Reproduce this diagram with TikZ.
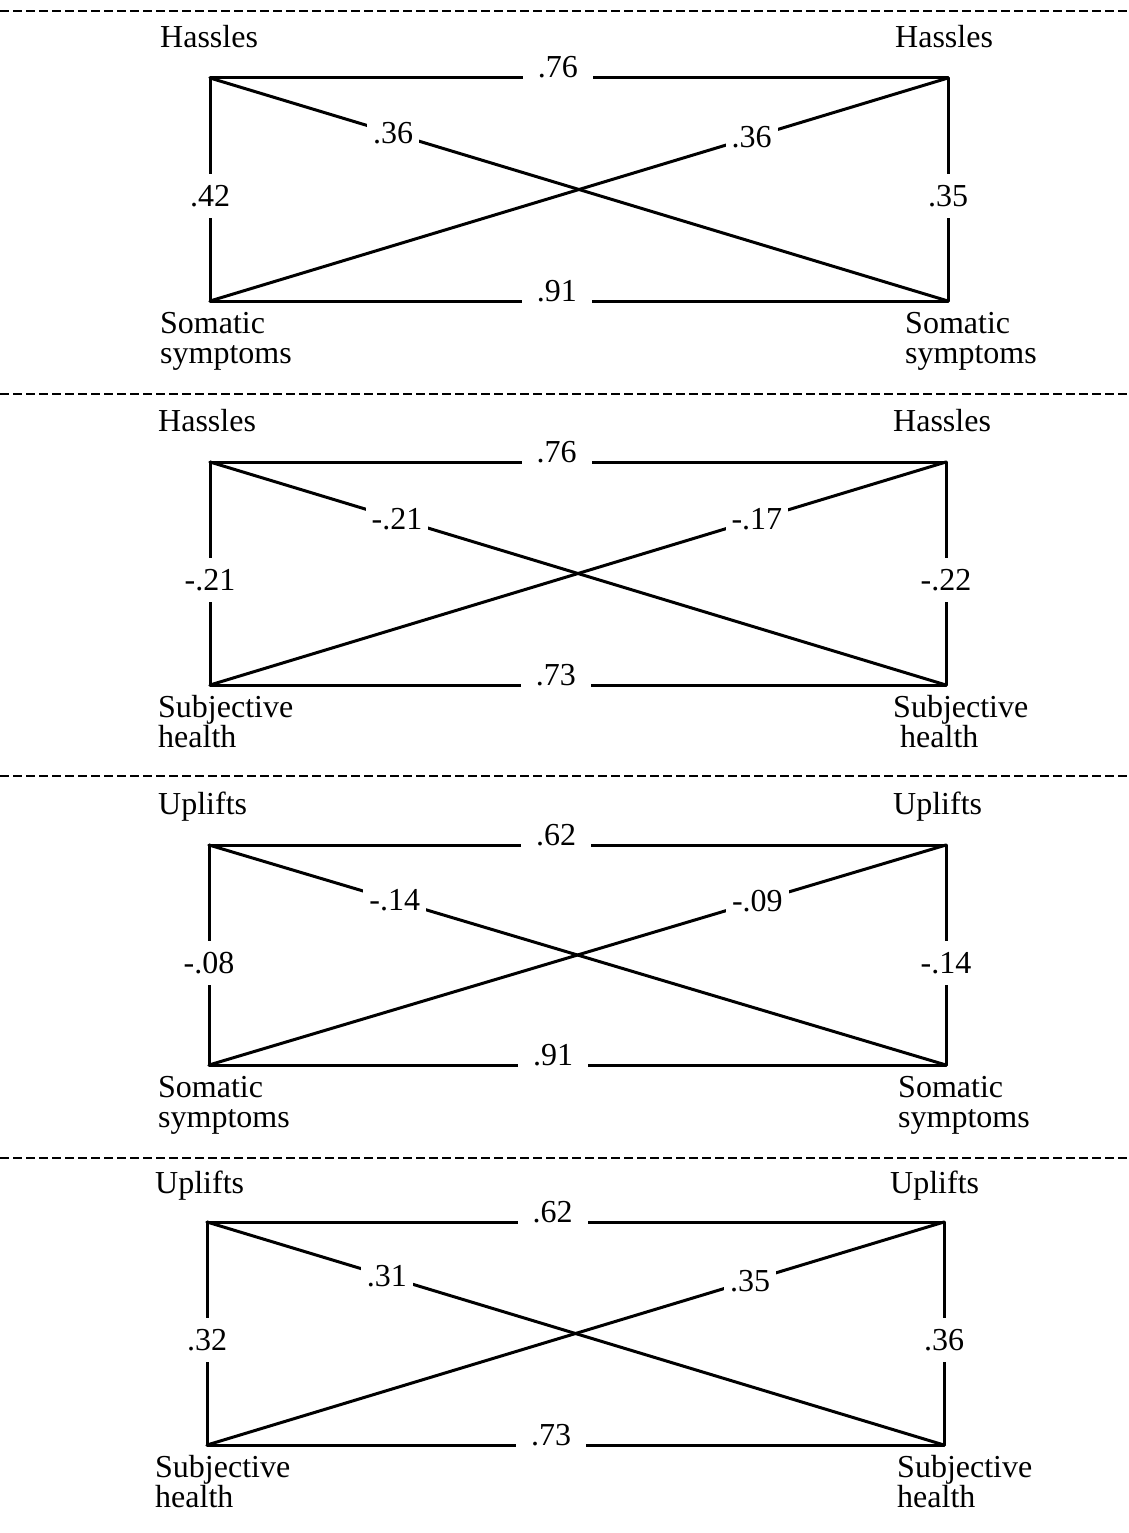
\documentclass[tikz,border=0pt]{standalone}
\usepackage{fontspec}
\setmainfont{Liberation Serif}
\begin{document}
\begin{tikzpicture}[x=1pt,y=-1pt,
  edge/.style={line width=3pt, line cap=round, line join=round},
  sep/.style={line width=2pt, dash pattern=on 9pt off 4pt},
  hlab/.style={fill=white, anchor=base, inner xsep=15pt, inner ysep=3pt},
  dlab/.style={fill=white, inner xsep=6pt, inner ysep=3pt},
  vlab/.style={fill=white, inner xsep=2pt, inner ysep=11pt},
  var/.style={anchor=base west, inner sep=0pt},
  every node/.style={font=\fontsize{32}{36}\selectfont}]
\useasboundingbox (0,0) rectangle (1129,1533);

% separators
\coordinate (s1l) at (0,11);   \coordinate (s1r) at (1129,11);
\coordinate (s2l) at (0,394);  \coordinate (s2r) at (1129,394);
\coordinate (s3l) at (0,776);  \coordinate (s3r) at (1129,776);
\coordinate (s4l) at (0,1158); \coordinate (s4r) at (1129,1158);
\draw[sep] (s1l) -- (s1r);
\draw[sep] (s2l) -- (s2r);
\draw[sep] (s3l) -- (s3r);
\draw[sep] (s4l) -- (s4r);

% ---------- panel 1 ----------
\coordinate (a1) at (210,78);  \coordinate (b1) at (948,78);
\coordinate (c1) at (210,301); \coordinate (d1) at (948,301);
\draw[edge] (a1) -- node[hlab,pos=0.4715]{.76} (b1);
\draw[edge] (c1) -- node[hlab,pos=0.470]{.91} (d1);
\draw[edge] (a1) -- node[vlab,pos=0.53]{.42} (c1);
\draw[edge] (b1) -- node[vlab,pos=0.53]{.35} (d1);
\draw[edge] (a1) -- node[dlab,pos=0.248]{.36} (d1);
\draw[edge] (c1) -- node[dlab,pos=0.734]{.36} (b1);
\node[var] (p1tl) at (160,48) {Hassles};
\node[var] (p1tr) at (895,48) {Hassles};
\node[var] (p1bl1) at (160,333) {Somatic};
\node[var] (p1bl2) at (160,363) {symptoms};
\node[var] (p1br1) at (905,333) {Somatic};
\node[var] (p1br2) at (905,363) {symptoms};

% ---------- panel 2 ----------
\coordinate (a2) at (210,462);  \coordinate (b2) at (946,462);
\coordinate (c2) at (210,685);  \coordinate (d2) at (946,685);
\draw[edge] (a2) -- node[hlab,pos=0.471]{.76} (b2);
\draw[edge] (c2) -- node[hlab,pos=0.470]{.73} (d2);
\draw[edge] (a2) -- node[vlab,pos=0.53]{-.21} (c2);
\draw[edge] (b2) -- node[vlab,pos=0.53]{-.22} (d2);
\draw[edge] (a2) -- node[dlab,pos=0.254]{-.21} (d2);
\draw[edge] (c2) -- node[dlab,pos=0.743]{-.17} (b2);
\node[var] (p2tl) at (158,431) {Hassles};
\node[var] (p2tr) at (893,431) {Hassles};
\node[var] (p2bl1) at (158,717) {Subjective};
\node[var] (p2bl2) at (158,747) {health};
\node[var] (p2br1) at (893,717) {Subjective};
\node[var] (p2br2) at (900,747) {health};

% ---------- panel 3 ----------
\coordinate (a3) at (209,845);  \coordinate (b3) at (946,845);
\coordinate (c3) at (209,1065); \coordinate (d3) at (946,1065);
\draw[edge] (a3) -- node[hlab,pos=0.471]{.62} (b3);
\draw[edge] (c3) -- node[hlab,pos=0.467]{.91} (d3);
\draw[edge] (a3) -- node[vlab,pos=0.536]{-.08} (c3);
\draw[edge] (b3) -- node[vlab,pos=0.536]{-.14} (d3);
\draw[edge] (a3) -- node[dlab,pos=0.252]{-.14} (d3);
\draw[edge] (c3) -- node[dlab,pos=0.744]{-.09} (b3);
\node[var] (p3tl) at (158,814) {Uplifts};
\node[var] (p3tr) at (893,814) {Uplifts};
\node[var] (p3bl1) at (158,1097) {Somatic};
\node[var] (p3bl2) at (158,1127) {symptoms};
\node[var] (p3br1) at (898,1097) {Somatic};
\node[var] (p3br2) at (898,1127) {symptoms};

% ---------- panel 4 ----------
\coordinate (a4) at (207,1222); \coordinate (b4) at (944,1222);
\coordinate (c4) at (207,1445); \coordinate (d4) at (944,1445);
\draw[edge] (a4) -- node[hlab,pos=0.469]{.62} (b4);
\draw[edge] (c4) -- node[hlab,pos=0.467]{.73} (d4);
\draw[edge] (a4) -- node[vlab,pos=0.53]{.32} (c4);
\draw[edge] (b4) -- node[vlab,pos=0.53]{.36} (d4);
\draw[edge] (a4) -- node[dlab,pos=0.244]{.31} (d4);
\draw[edge] (c4) -- node[dlab,pos=0.737]{.35} (b4);
\node[var] (p4tl) at (155,1193) {Uplifts};
\node[var] (p4tr) at (890,1193) {Uplifts};
\node[var] (p4bl1) at (155,1477) {Subjective};
\node[var] (p4bl2) at (155,1507) {health};
\node[var] (p4br1) at (897,1477) {Subjective};
\node[var] (p4br2) at (897,1507) {health};
\end{tikzpicture}
\end{document}
